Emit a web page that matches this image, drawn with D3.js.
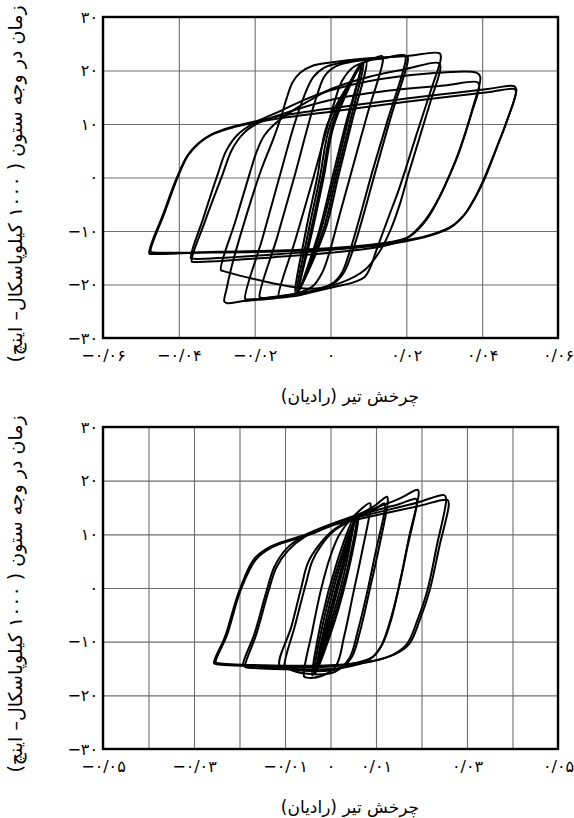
<!DOCTYPE html>
<html>
<head>
<meta charset="utf-8">
<script src="https://cdn.jsdelivr.net/npm/d3@7"></script>
<style>
  body { margin: 0; background: #fff; }
  svg { display: block; background: #fff; }
</style>
</head>
<body>
<div id="container"></div>
<script>
'use strict';

const w = 574;
const h = 818;
const left = 103;
const right = 558;
const font = '"DejaVu Sans", sans-serif';

// Axis texts.
const xTitle = 'چرخش تیر (رادیان)';
const yTitle = 'زمان در وجه ستون ( ۱۰۰۰ کیلوپاسکال– اینچ)';

const yTicks = [-30, -20, -10, 0, 10, 20, 30];
const yLabels = ['−۳۰', '−۲۰', '−۱۰', '۰', '۱۰', '۲۰', '۳۰'];

const topXTicks = [-0.06, -0.04, -0.02, 0, 0.02, 0.04, 0.06];
const topXLabels = ['−۰/۰۶', '−۰/۰۴', '−۰/۰۲', '۰', '۰/۰۲', '۰/۰۴', '۰/۰۶'];

const bottomXGrid = [-0.05, -0.04, -0.03, -0.02, -0.01, 0, 0.01, 0.02, 0.03, 0.04, 0.05];
const bottomXTicks = [-0.05, -0.03, -0.01, 0, 0.01, 0.03, 0.05];
const bottomXLabels = ['−۰/۰۵', '−۰/۰۳', '−۰/۰۱', '۰', '۰/۰۱', '۰/۰۳', '۰/۰۵'];

// Top specimen: hysteresis loops [rotation, moment].
const topOuterA = [[-0.0478,-14.2],[-0.0440,-6.6],[-0.0405,0.0],[-0.0378,4.0],[-0.0350,6.3],[-0.0315,8.0],[-0.0267,9.3],[-0.0196,10.5],[-0.0130,11.5],[0.0000,12.9],[0.0150,14.3],[0.0300,15.6],[0.0420,16.6],[0.0483,17.1],[0.0490,16.5],[0.0465,10.5],[0.0438,5.5],[0.0405,-0.5],[0.0380,-4.0],[0.0355,-6.8],[0.0322,-9.0],[0.0270,-10.6],[0.0209,-11.6],[0.0100,-12.6],[-0.0080,-13.5],[-0.0300,-13.9],[-0.0470,-14.3]];
const topOuterB = [[-0.0474,-13.9],[-0.0437,-6.5],[-0.0402,0.2],[-0.0375,4.2],[-0.0345,6.5],[-0.0310,8.1],[-0.0260,9.3],[-0.0196,10.3],[-0.0130,11.1],[0.0000,12.3],[0.0150,13.7],[0.0300,15.0],[0.0420,16.0],[0.0486,16.5],[0.0489,15.9],[0.0462,10.0],[0.0435,5.0],[0.0400,-1.0],[0.0375,-4.5],[0.0350,-7.2],[0.0315,-9.4],[0.0260,-10.9],[0.0200,-11.9],[0.0100,-12.9],[-0.0080,-13.7],[-0.0300,-14.0],[-0.0466,-14.0]];
const topSecondA = [[-0.0368,-15.1],[-0.0335,-7.5],[-0.0298,0.5],[-0.0275,5.0],[-0.0245,8.0],[-0.0196,10.4],[-0.0130,12.5],[-0.0060,14.8],[0.0000,16.3],[0.0100,18.0],[0.0250,19.4],[0.0385,19.6],[0.0395,18.8],[0.0376,13.2],[0.0340,5.1],[0.0305,-1.0],[0.0285,-4.0],[0.0253,-7.9],[0.0209,-11.0],[0.0150,-12.2],[0.0050,-13.2],[-0.0150,-14.4],[-0.0360,-15.2]];
const topSecondB = [[-0.0366,-15.7],[-0.0330,-8.0],[-0.0285,0.5],[-0.0260,5.2],[-0.0230,8.2],[-0.0196,10.0],[-0.0130,11.8],[0.0000,14.5],[0.0150,16.2],[0.0300,17.2],[0.0388,17.8],[0.0392,17.0],[0.0372,12.0],[0.0338,4.5],[0.0302,-1.5],[0.0280,-4.6],[0.0245,-8.4],[0.0200,-11.4],[0.0140,-12.8],[0.0040,-13.8],[-0.0150,-14.9],[-0.0358,-15.8]];
const topThirdA = [[-0.0289,-17.3],[-0.0250,-8.0],[-0.0212,1.0],[-0.0195,4.8],[-0.0175,7.8],[-0.0150,9.8],[-0.0100,12.5],[-0.0040,15.0],[0.0000,16.5],[0.0100,18.8],[0.0200,20.3],[0.0285,21.4],[0.0290,20.6],[0.0265,14.5],[0.0235,7.5],[0.0205,0.5],[0.0185,-4.5],[0.0160,-9.5],[0.0130,-13.8],[0.0090,-17.3],[0.0030,-19.6],[-0.0050,-20.8],[-0.0150,-19.8],[-0.0282,-17.5]];
const topThirdB = [[-0.0280,-23.2],[-0.0274,-20.8],[-0.0262,-17.0],[-0.0230,-9.0],[-0.0183,1.4],[-0.0152,7.0],[-0.0130,11.4],[-0.0117,14.5],[-0.0100,17.8],[-0.0080,19.6],[-0.0050,20.8],[0.0000,21.5],[0.0100,22.3],[0.0200,22.7],[0.0288,23.2],[0.0291,22.3],[0.0268,17.0],[0.0228,8.3],[0.0200,2.0],[0.0180,-2.3],[0.0150,-8.0],[0.0120,-13.8],[0.0105,-16.8],[0.0090,-18.6],[0.0060,-19.6],[0.0006,-20.5],[-0.0082,-22.0],[-0.0150,-22.6],[-0.0230,-23.1],[-0.0272,-23.5]];
const topFourthA = [[-0.0187,-22.3],[-0.0140,-11.0],[-0.0092,1.0],[-0.0060,9.5],[-0.0035,15.5],[-0.0015,19.0],[0.0015,20.8],[0.0070,21.8],[0.0140,22.3],[0.0196,22.8],[0.0198,21.9],[0.0152,11.0],[0.0110,1.0],[0.0075,-8.0],[0.0050,-14.0],[0.0030,-17.8],[0.0005,-19.8],[-0.0050,-21.2],[-0.0120,-22.0],[-0.0182,-22.5]];
const topFourthB = [[-0.0225,-22.7],[-0.0180,-11.5],[-0.0135,0.0],[-0.0095,10.0],[-0.0068,15.5],[-0.0045,18.8],[-0.0015,20.6],[0.0040,21.6],[0.0120,22.1],[0.0202,22.7],[0.0204,21.9],[0.0160,11.5],[0.0118,1.0],[0.0085,-7.5],[0.0058,-13.8],[0.0035,-17.8],[0.0005,-20.0],[-0.0060,-21.5],[-0.0140,-22.3],[-0.0218,-22.8]];
const topFifth = [[-0.0137,-22.3],[-0.0092,-11.5],[-0.0045,0.0],[-0.0012,8.5],[0.0010,14.0],[0.0030,18.0],[0.0060,20.6],[0.0100,21.8],[0.0136,22.7],[0.0138,21.8],[0.0098,12.0],[0.0055,1.0],[0.0022,-7.5],[-0.0002,-13.8],[-0.0022,-17.8],[-0.0048,-20.4],[-0.0090,-21.7],[-0.0132,-22.4]];
const topBandA = [[-0.0092,-21.8],[-0.0065,-10.0],[-0.0035,0.0],[-0.0008,10.0],[0.0094,21.7],[0.0055,10.0],[0.0020,0.0],[-0.0015,-10.0]];
const topBandB = [[-0.0088,-21.5],[-0.0058,-10.0],[-0.0028,0.0],[0.0000,10.0],[0.0086,21.5],[0.0050,10.0],[0.0015,0.0],[-0.0020,-10.0]];
const topBandC = [[-0.0084,-21.3],[-0.0052,-10.0],[-0.0022,0.0],[0.0006,10.0],[0.0080,21.2],[0.0044,10.0],[0.0010,0.0],[-0.0026,-10.0]];
const topBandD = [[-0.0086,-21.6],[-0.0048,-10.0],[-0.0018,0.0],[0.0010,10.0],[0.0083,21.4],[0.0040,10.0],[0.0005,0.0],[-0.0030,-10.0]];

// Bottom specimen.
const botOuterA = [[-0.0256,-14.0],[-0.0232,-9.1],[-0.0200,-0.4],[-0.0167,5.5],[-0.0130,7.8],[-0.0086,9.1],[-0.0035,10.5],[0.0005,12.0],[0.0080,13.6],[0.0190,15.9],[0.0250,17.3],[0.0254,16.7],[0.0234,8.0],[0.0213,-0.4],[0.0191,-6.0],[0.0169,-10.3],[0.0140,-12.3],[0.0090,-13.7],[0.0000,-14.6],[-0.0150,-14.6],[-0.0250,-14.2]];
const botOuterB = [[-0.0252,-13.8],[-0.0228,-8.9],[-0.0197,-0.3],[-0.0164,5.3],[-0.0128,7.6],[-0.0086,8.9],[-0.0035,10.3],[0.0005,11.7],[0.0080,13.2],[0.0190,15.2],[0.0257,16.4],[0.0260,15.7],[0.0240,8.0],[0.0218,-0.4],[0.0196,-6.0],[0.0174,-10.3],[0.0145,-12.2],[0.0093,-13.6],[0.0000,-14.4],[-0.0150,-14.4],[-0.0246,-14.0]];
const botSecondA = [[-0.0192,-14.3],[-0.0167,-8.5],[-0.0141,-0.7],[-0.0123,4.0],[-0.0097,7.3],[-0.0057,9.8],[0.0005,12.0],[0.0080,14.3],[0.0150,16.6],[0.0192,18.3],[0.0194,17.6],[0.0173,9.6],[0.0155,2.1],[0.0133,-6.0],[0.0115,-10.3],[0.0093,-12.8],[0.0040,-14.2],[-0.0050,-14.8],[-0.0150,-14.7],[-0.0188,-14.4]];
const botSecondB = [[-0.0188,-14.7],[-0.0163,-8.6],[-0.0137,-0.8],[-0.0119,3.8],[-0.0093,7.0],[-0.0055,9.6],[0.0005,11.8],[0.0080,14.0],[0.0150,15.6],[0.0188,16.6],[0.0190,16.0],[0.0170,8.0],[0.0150,0.0],[0.0128,-7.0],[0.0110,-11.0],[0.0085,-13.4],[0.0030,-14.8],[-0.0060,-15.2],[-0.0150,-15.0],[-0.0184,-14.8]];
const botThirdA = [[-0.0112,-14.4],[-0.0086,-7.2],[-0.0064,0.2],[-0.0050,4.6],[-0.0028,7.7],[0.0005,10.7],[0.0060,13.5],[0.0100,15.5],[0.0124,17.0],[0.0126,16.3],[0.0107,7.7],[0.0086,-0.4],[0.0064,-8.4],[0.0046,-13.0],[0.0020,-15.0],[-0.0040,-15.5],[-0.0090,-15.0]];
const botThirdB = [[-0.0101,-14.7],[-0.0078,-7.0],[-0.0055,0.5],[-0.0040,5.0],[-0.0020,8.0],[0.0010,10.8],[0.0060,13.2],[0.0100,14.8],[0.0118,15.8],[0.0120,15.2],[0.0100,7.0],[0.0080,-1.0],[0.0060,-8.0],[0.0042,-13.0],[0.0010,-15.6],[-0.0050,-16.0],[-0.0095,-15.0]];
const botFourth = [[-0.0058,-16.5],[-0.0040,-8.0],[-0.0020,0.0],[0.0000,6.0],[0.0020,10.0],[0.0050,13.3],[0.0087,15.8],[0.0088,15.0],[0.0070,7.0],[0.0050,-1.0],[0.0030,-9.0],[0.0012,-14.5],[-0.0020,-16.4],[-0.0052,-16.7]];
const botBandA = [[-0.0036,-16.0],[-0.0015,-6.0],[0.0020,5.0],[0.0058,13.5],[0.0041,5.0],[0.0006,-6.0]];
const botBandB = [[-0.0032,-15.6],[-0.0010,-6.0],[0.0024,5.0],[0.0062,13.8],[0.0044,5.0],[0.0010,-6.0]];
const botBandC = [[-0.0040,-16.3],[-0.0020,-6.0],[0.0015,5.0],[0.0050,12.8],[0.0036,5.0],[0.0002,-6.0]];
const botBandD = [[-0.0034,-16.1],[-0.0006,-6.0],[0.0028,5.0],[0.0056,13.2],[0.0032,5.0],[-0.0002,-6.0]];

const svg = d3.select('#container')
    .append('svg')
    .attr('width', w)
    .attr('height', h)
    .attr('viewBox', '0 0 ' + w + ' ' + h);

function drawPanel(p) {
    const x = d3.scaleLinear().domain(p.xDomain).range([left, right]);
    const y = d3.scaleLinear().domain([-30, 30]).range([p.bottom, p.top]);
    const g = svg.append('g');

    // Grid.
    g.append('g')
        .attr('transform', 'translate(0,' + p.bottom + ')')
        .call(d3.axisBottom(x).tickValues(p.xGrid).tickSize(-(p.bottom - p.top)).tickFormat(''))
        .call(a => a.select('.domain').remove())
        .selectAll('line').attr('stroke', '#6e6e6e').attr('stroke-width', 1.1);
    g.append('g')
        .attr('transform', 'translate(' + left + ',0)')
        .call(d3.axisLeft(y).tickValues(yTicks).tickSize(-(right - left)).tickFormat(''))
        .call(a => a.select('.domain').remove())
        .selectAll('line').attr('stroke', '#6e6e6e').attr('stroke-width', 1.1);

    // Loops.
    const line = d3.line()
        .x(d => x(d[0]))
        .y(d => y(d[1]))
        .curve(d3.curveCatmullRomClosed.alpha(0.5));
    g.append('g').selectAll('path')
        .data(p.loops)
        .enter()
        .append('path')
        .attr('d', line)
        .attr('fill', 'none')
        .attr('stroke', '#000')
        .attr('stroke-width', 2)
        .attr('stroke-linejoin', 'round');

    // Frame.
    g.append('rect')
        .attr('x', left)
        .attr('y', p.top)
        .attr('width', right - left)
        .attr('height', p.bottom - p.top)
        .attr('fill', 'none')
        .attr('stroke', '#000')
        .attr('stroke-width', 2.4);

    // Tick labels.
    const xa = g.append('g')
        .attr('transform', 'translate(0,' + p.bottom + ')')
        .call(d3.axisBottom(x).tickValues(p.xTicks).tickSize(0).tickPadding(12)
            .tickFormat((d, i) => p.xLabels[i]));
    xa.select('.domain').remove();
    xa.selectAll('text')
        .attr('font-family', font)
        .attr('font-size', 16)
        .attr('direction', 'ltr')
        .attr('letter-spacing', 1);

    const ya = g.append('g')
        .attr('transform', 'translate(' + left + ',0)')
        .call(d3.axisLeft(y).tickValues(yTicks).tickSize(0).tickPadding(5)
            .tickFormat((d, i) => yLabels[i]));
    ya.select('.domain').remove();
    ya.selectAll('text')
        .attr('font-family', font)
        .attr('font-size', 16)
        .attr('direction', 'ltr');

    // Axis titles.
    g.append('text')
        .attr('x', 350)
        .attr('y', p.bottom + 64)
        .attr('text-anchor', 'middle')
        .attr('direction', 'rtl')
        .attr('font-family', font)
        .attr('font-size', 17)
        .text(xTitle);

    g.append('text')
        .attr('transform', 'translate(15,' + p.titleY + ') rotate(-90)')
        .attr('dy', '0.35em')
        .attr('text-anchor', 'middle')
        .attr('direction', 'rtl')
        .attr('font-family', font)
        .attr('font-size', 19)
        .text(yTitle);
}

drawPanel({
    xDomain: [-0.06, 0.06],
    top: 17,
    bottom: 338,
    titleY: 184,
    xGrid: topXTicks,
    xTicks: topXTicks,
    xLabels: topXLabels,
    loops: [topOuterA, topOuterB, topSecondA, topSecondB, topThirdA, topThirdB,
        topFourthA, topFourthB, topFifth, topBandA, topBandB, topBandC, topBandD]
});

drawPanel({
    xDomain: [-0.05, 0.05],
    top: 427,
    bottom: 749,
    titleY: 594,
    xGrid: bottomXGrid,
    xTicks: bottomXTicks,
    xLabels: bottomXLabels,
    loops: [botOuterA, botOuterB, botSecondA, botSecondB, botThirdA, botThirdB,
        botFourth, botBandA, botBandB, botBandC, botBandD]
});
</script>
</body>
</html>
